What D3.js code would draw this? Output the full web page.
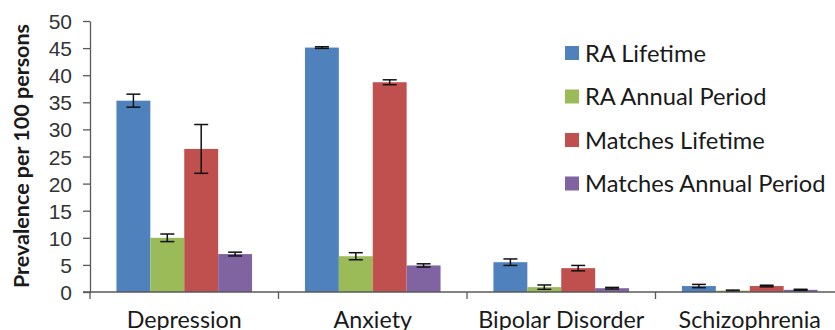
<!DOCTYPE html>
<html><head><meta charset="utf-8">
<script src="https://cdn.jsdelivr.net/npm/d3@7"></script>
<style>
html,body{margin:0;padding:0;background:#fff;}
svg{display:block;font-family:Lato, "Open Sans", sans-serif;}
</style></head>
<body>
<svg id="chart" width="835" height="330"></svg>
<script>
const categories = ["Depression", "Anxiety", "Bipolar Disorder", "Schizophrenia"];
const seriesNames = ["RA Lifetime", "RA Annual Period", "Matches Lifetime", "Matches Annual Period"];
const seriesColors = ["#4F81BD", "#9BBB59", "#C0504D", "#8064A2"];
const raLifetime = [35.3, 45.1, 5.5, 1.1];
const raLifetimeErr = [1.2, 0.15, 0.6, 0.3];
const raAnnual = [10.0, 6.6, 0.9, 0.25];
const raAnnualErr = [0.7, 0.65, 0.4, 0.1];
const matchesLifetime = [26.4, 38.7, 4.4, 1.1];
const matchesLifetimeErr = [4.5, 0.45, 0.5, 0.15];
const matchesAnnual = [7.0, 4.9, 0.7, 0.4];
const matchesAnnualErr = [0.35, 0.3, 0.15, 0.1];
const yTicks = [0, 5, 10, 15, 20, 25, 30, 35, 40, 45, 50];

const values = [raLifetime, raAnnual, matchesLifetime, matchesAnnual];
const errors = [raLifetimeErr, raAnnualErr, matchesLifetimeErr, matchesAnnualErr];

const svg = d3.select("#chart");
const mLeft = 90, mBottom = 292, mTop = 21, catW = 188.5;
const x0 = d3.scaleBand().domain(categories).range([mLeft, mLeft + catW * categories.length]).padding(0);
const x1 = d3.scaleBand().domain(seriesNames).range([0, x0.bandwidth()]).paddingInner(0).paddingOuter(0.78);
const y = d3.scaleLinear().domain([0, 50]).range([mBottom, mTop]);

const axisColor = "#595959";
const textColor = "#1a1a1a";

// bars
const data = [];
categories.forEach((c, ci) => seriesNames.forEach((s, si) => data.push({c, s, si, v: values[si][ci], e: errors[si][ci]})));

svg.append("g").selectAll("rect").data(data).join("rect")
  .attr("x", d => x0(d.c) + x1(d.s))
  .attr("width", x1.bandwidth())
  .attr("y", d => y(d.v))
  .attr("height", d => y(0) - y(d.v))
  .attr("fill", d => seriesColors[d.si]);

// error bars
const eg = svg.append("g").attr("stroke", "#111").attr("stroke-width", 1.5).attr("fill", "none");
data.forEach(d => {
  const cx = x0(d.c) + x1(d.s) + x1.bandwidth() / 2;
  const g = eg.append("g");
  g.append("line").attr("x1", cx).attr("x2", cx).attr("y1", y(d.v + d.e)).attr("y2", y(d.v - d.e));
  g.append("line").attr("x1", cx - 7).attr("x2", cx + 7).attr("y1", y(d.v + d.e)).attr("y2", y(d.v + d.e));
  g.append("line").attr("x1", cx - 7).attr("x2", cx + 7).attr("y1", y(d.v - d.e)).attr("y2", y(d.v - d.e));
});

// y axis
const yAxis = svg.append("g").attr("transform", `translate(${mLeft},0)`)
  .call(d3.axisLeft(y).tickValues(yTicks).tickSize(7).tickSizeOuter(0).tickPadding(11));
yAxis.select(".domain").attr("stroke", axisColor).attr("stroke-width", 1.3);
yAxis.selectAll(".tick line").attr("stroke", axisColor).attr("stroke-width", 1.3);
yAxis.selectAll(".tick text").attr("fill", "#333").style("font-size", "21px").attr("dy", "0.36em");

// x axis
const xAxisG = svg.append("g").attr("transform", `translate(0,${mBottom})`);
xAxisG.append("line").attr("x1", mLeft - 7).attr("x2", mLeft + catW * 4).attr("y1", 0).attr("y2", 0)
  .attr("stroke", axisColor).attr("stroke-width", 1.3);
const boundaries = categories.map(c => x0(c)).concat([x0.range()[1]]);
xAxisG.selectAll("line.b").data(boundaries).join("line").attr("class", "b")
  .attr("x1", d => d).attr("x2", d => d).attr("y1", 0).attr("y2", 7)
  .attr("stroke", axisColor).attr("stroke-width", 1.3);
xAxisG.selectAll("text").data(categories).join("text")
  .attr("x", d => x0(d) + x0.bandwidth() / 2)
  .attr("y", 36)
  .attr("text-anchor", "middle")
  .attr("fill", textColor)
  .style("font-size", "23.3px")
  .text(d => d);

// y title
svg.append("text")
  .attr("transform", `translate(29,156) rotate(-90)`)
  .attr("text-anchor", "middle")
  .attr("fill", textColor)
  .style("font-size", "21.5px")
  .style("font-weight", "bold")
  .text("Prevalence per 100 persons");

// legend
const lg = svg.append("g").attr("transform", "translate(565,53)");
const items = lg.selectAll("g").data(seriesNames).join("g")
  .attr("transform", (d, i) => `translate(0,${i * 43.5})`);
items.append("rect").attr("x", 0).attr("y", -7).attr("width", 14).attr("height", 14)
  .attr("fill", (d, i) => seriesColors[i]);
items.append("text").attr("x", 20).attr("y", 0).attr("dy", "0.36em")
  .attr("fill", textColor).style("font-size", "23.7px").text(d => d);
</script>
</body></html>
